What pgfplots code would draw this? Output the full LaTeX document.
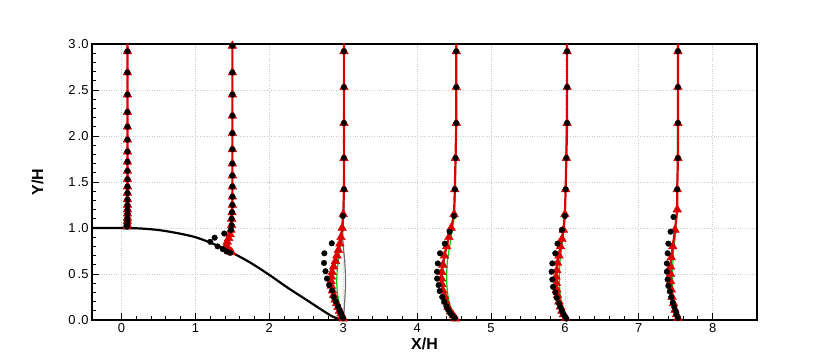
\documentclass[border=0pt]{standalone}
\usepackage{fontspec}
\setmainfont{Liberation Sans}
\usepackage{pgfplots}
\pgfplotsset{compat=1.18}
\definecolor{ProfRed}{HTML}{DD0000}
\definecolor{ProfGreen}{HTML}{00CC00}
\definecolor{ProfGray}{HTML}{707070}
\definecolor{GridGray}{HTML}{CCCCCC}

\begin{document}
\begin{tikzpicture}
\begin{axis}[
  scale only axis,
  width=665bp, height=276bp,
  xmin=-0.4, xmax=8.6, ymin=0, ymax=3,
  xtick={0,1,2,3,4,5,6,7,8},
  ytick={0,0.5,1,1.5,2,2.5,3},
  yticklabels={0\,.0,0\,.5,1\,.0,1\,.5,2\,.0,2\,.5,3\,.0},
  minor x tick num=4, minor y tick num=4,
  tick align=inside, xtick pos=bottom, ytick pos=left,
  major tick length=7bp, minor tick length=4bp,
  tick style={black, line width=0.8bp},
  grid=major,
  grid style={dotted, GridGray, line width=0.6pt},
  axis line style={line width=1.2bp},
  tick label style={font=\fontsize{13}{15}\selectfont},
  /pgf/number format/assume math mode=true,
  xlabel={X/H}, ylabel={Y/H},
  label style={font=\fontsize{16}{18}\selectfont\bfseries},
  xlabel style={yshift=2bp},
  ylabel shift=18bp,
  unbounded coords=jump,
]
\coordinate (SW) at (rel axis cs:0,0);
\coordinate (NE) at (rel axis cs:1,1);

% other models (mostly hidden behind the red one)
\addplot[ProfGray, line width=1.2bp, no marks] coordinates {
  (3.01,3.0) (3.01,1.2) (3.0,1.0) (2.99,0.9) (3.0,0.8) (3.02,0.65)
  (3.03,0.5) (3.03,0.35) (3.02,0.2) (3.01,0.08) (3.0,0.0)
};
\addplot[ProfGreen, line width=1.2bp, no marks] coordinates {
  (3.01,3.0) (3.01,1.42) (3.0,1.15) (2.99,1.0) (2.97,0.85) (2.94,0.7)
  (2.92,0.55) (2.91,0.42) (2.92,0.3) (2.95,0.15) (2.98,0.05) (3.0,0.0)
  (nan,nan)
  (4.53,3.0) (4.52,1.42) (4.50,1.1) (4.47,0.95) (4.44,0.8) (4.41,0.65)
  (4.40,0.52) (4.40,0.42) (4.41,0.3) (4.44,0.17) (4.48,0.07) (4.52,0.0)
  (nan,nan)
  (6.03,3.0) (6.01,1.4) (5.99,1.0) (5.96,0.8) (5.935,0.65) (5.925,0.52)
  (5.925,0.4) (5.935,0.28) (5.96,0.15) (6.0,0.03)
  (nan,nan)
  (7.53,3.0) (7.52,1.2) (7.50,0.95) (7.47,0.75) (7.46,0.6) (7.455,0.45)
  (7.46,0.3) (7.48,0.17) (7.51,0.06) (7.53,0.0)
};

% hill
\addplot[black, line width=2.2bp, no marks, smooth] coordinates {
  (-0.4,1.0) (0,1.0) (0.25,0.995) (0.5,0.978) (0.75,0.945) (1.0,0.9)
  (1.25,0.825) (1.5,0.73) (1.75,0.62) (2.0,0.49) (2.25,0.35) (2.5,0.22)
  (2.7,0.115) (2.85,0.04) (2.95,0.01) (3.05,0.0)
};
\addplot[black, line width=2.2bp, no marks] coordinates {(3.05,0) (8.6,0)};

% computed profiles
\addplot[ProfRed, line width=2.2bp, no marks] coordinates {
  (0.08,3.0) (0.08,2.92) (0.08,1.2) (0.078,1.076) (0.076,1.043) (0.074,1.014)
  (nan,nan)
  (1.5,3.0) (1.5,2.98) (1.5,1.25) (1.495,1.17) (1.49,1.10) (1.49,1.03)
  (1.48,0.98) (1.47,0.93) (1.45,0.89) (1.43,0.85) (1.42,0.81) (1.43,0.78)
  (1.46,0.755) (1.49,0.735)
  (nan,nan)
  (3.01,3.0) (3.01,1.42) (3.0,1.15) (2.985,1.0) (2.97,0.9) (2.955,0.83)
  (2.935,0.76) (2.915,0.70) (2.895,0.64) (2.87,0.58) (2.85,0.52) (2.84,0.47)
  (2.835,0.42) (2.84,0.37) (2.855,0.32) (2.87,0.27) (2.89,0.22) (2.91,0.18)
  (2.93,0.14) (2.95,0.10) (2.97,0.07) (2.985,0.04) (3.0,0.015)
  (nan,nan)
  (4.53,3.0) (4.53,2.14) (4.52,1.76) (4.51,1.42) (4.50,1.15) (4.46,1.0)
  (4.43,0.9) (4.40,0.8) (4.37,0.7) (4.35,0.6) (4.335,0.52) (4.33,0.45)
  (4.335,0.39) (4.35,0.32) (4.37,0.26) (4.39,0.2) (4.42,0.14) (4.45,0.09)
  (4.49,0.05) (4.52,0.015)
  (nan,nan)
  (6.03,3.0) (6.03,2.14) (6.02,1.76) (6.01,1.42) (6.0,1.15) (5.98,0.98)
  (5.96,0.88) (5.94,0.80) (5.92,0.70) (5.90,0.62) (5.89,0.54) (5.88,0.47)
  (5.885,0.40) (5.89,0.33) (5.90,0.27) (5.92,0.2) (5.94,0.145) (5.96,0.10)
  (5.98,0.06) (6.01,0.02)
  (nan,nan)
  (7.53,3.0) (7.53,1.76) (7.52,1.42) (7.52,1.2) (7.49,0.98) (7.46,0.80)
  (7.44,0.68) (7.43,0.58) (7.43,0.50) (7.43,0.42) (7.44,0.33) (7.45,0.25)
  (7.47,0.18) (7.49,0.11) (7.51,0.06) (7.53,0.02)
};
\addplot[only marks, mark=triangle*, mark size=5bp, ProfRed,
  mark options={fill=ProfRed}] coordinates {
  (0.08,2.92) (0.08,2.69) (0.08,2.45) (0.08,2.26) (0.08,2.10) (0.08,1.96)
  (0.08,1.83) (0.08,1.72) (0.08,1.62) (0.08,1.53) (0.08,1.45) (0.08,1.38)
  (0.08,1.31) (0.08,1.25) (0.08,1.20) (0.08,1.155) (0.079,1.11)
  (0.078,1.076) (0.076,1.043) (0.074,1.014)
  (1.5,2.98) (1.5,2.69) (1.5,2.45) (1.5,2.22) (1.5,2.03) (1.5,1.855)
  (1.5,1.70) (1.5,1.57) (1.5,1.45) (1.5,1.34) (1.5,1.25) (1.495,1.17)
  (1.49,1.10) (1.49,1.03) (1.48,0.98) (1.47,0.93) (1.45,0.89) (1.43,0.85)
  (1.42,0.81) (1.43,0.78) (1.46,0.755) (1.49,0.735)
  (3.01,2.92) (3.01,2.53) (3.01,2.14) (3.01,1.76) (3.01,1.42) (3.0,1.15)
  (2.985,1.0) (2.97,0.9) (2.955,0.83) (2.935,0.76) (2.915,0.70) (2.895,0.64)
  (2.87,0.58) (2.85,0.52) (2.84,0.47) (2.835,0.42) (2.84,0.37) (2.855,0.32)
  (2.87,0.27) (2.89,0.22) (2.91,0.18) (2.93,0.14) (2.95,0.10) (2.97,0.07)
  (2.985,0.04) (3.0,0.015)
  (4.53,2.92) (4.53,2.53) (4.53,2.14) (4.52,1.76) (4.51,1.42) (4.50,1.15)
  (4.46,1.0) (4.43,0.9) (4.40,0.8) (4.37,0.7) (4.35,0.6) (4.335,0.52)
  (4.33,0.45) (4.335,0.39) (4.35,0.32) (4.37,0.26) (4.39,0.2) (4.42,0.14)
  (4.45,0.09) (4.49,0.05) (4.52,0.015)
  (6.03,2.92) (6.03,2.53) (6.03,2.14) (6.02,1.76) (6.01,1.42) (6.0,1.15)
  (5.98,0.98) (5.96,0.88) (5.94,0.80) (5.92,0.70) (5.90,0.62) (5.89,0.54)
  (5.88,0.47) (5.885,0.40) (5.89,0.33) (5.90,0.27) (5.92,0.2) (5.94,0.145)
  (5.96,0.10) (5.98,0.06) (6.01,0.02)
  (7.53,2.92) (7.53,2.53) (7.53,2.14) (7.53,1.76) (7.52,1.42) (7.52,1.2)
  (7.49,0.98) (7.46,0.80) (7.44,0.68) (7.43,0.58) (7.43,0.50) (7.43,0.42)
  (7.44,0.33) (7.45,0.25) (7.47,0.18) (7.49,0.11) (7.51,0.06) (7.53,0.02)
};

% experiment
\addplot[only marks, mark=*, mark size=2.8bp, black] coordinates {
  (0.08,2.92) (0.08,2.69) (0.08,2.45) (0.08,2.26) (0.08,2.10) (0.08,1.96)
  (0.08,1.83) (0.08,1.72) (0.08,1.62) (0.08,1.53) (0.08,1.45) (0.08,1.38)
  (0.08,1.31) (0.08,1.25) (0.08,1.20) (0.08,1.155) (0.079,1.11)
  (0.078,1.076) (0.076,1.043) (0.074,1.014)
  (1.5,2.98) (1.5,2.69) (1.5,2.45) (1.5,2.22) (1.5,2.03) (1.5,1.855)
  (1.5,1.70) (1.5,1.57) (1.5,1.45) (1.5,1.34) (1.5,1.25) (1.495,1.17)
  (1.49,1.10) (1.49,1.03) (1.48,0.98) (1.39,0.94) (1.26,0.895) (1.20,0.85)
  (1.30,0.80) (1.37,0.77) (1.42,0.745) (1.47,0.73)
  (3.01,2.92) (3.01,2.53) (3.01,2.14) (3.01,1.76) (3.01,1.42) (2.995,1.13)
  (2.845,0.834) (2.745,0.725) (2.74,0.62) (2.76,0.53) (2.78,0.45) (2.81,0.38)
  (2.85,0.32) (2.87,0.25) (2.90,0.20) (2.93,0.15) (2.95,0.11) (2.97,0.075)
  (2.98,0.045) (3.0,0.02)
  (4.53,2.92) (4.53,2.53) (4.53,2.14) (4.52,1.76) (4.51,1.42) (4.50,1.13)
  (4.44,0.96) (4.375,0.83) (4.31,0.725) (4.28,0.615) (4.27,0.525) (4.27,0.45)
  (4.29,0.38) (4.305,0.315) (4.34,0.25) (4.365,0.2) (4.395,0.152) (4.42,0.11)
  (4.45,0.073) (4.48,0.044) (4.51,0.02)
  (6.03,2.92) (6.03,2.53) (6.03,2.14) (6.02,1.76) (6.01,1.42) (6.0,1.13)
  (5.96,0.98) (5.90,0.83) (5.87,0.725) (5.83,0.615) (5.82,0.525) (5.83,0.44)
  (5.84,0.36) (5.87,0.30) (5.89,0.24) (5.92,0.18) (5.94,0.14) (5.96,0.10)
  (5.98,0.06) (6.0,0.04) (6.02,0.015)
  (7.53,2.92) (7.53,2.53) (7.53,2.14) (7.53,1.76) (7.52,1.42) (7.47,1.12)
  (7.43,0.96) (7.40,0.83) (7.39,0.725) (7.38,0.615) (7.38,0.525) (7.39,0.44)
  (7.40,0.37) (7.42,0.31) (7.44,0.25) (7.46,0.19) (7.48,0.14) (7.50,0.095)
  (7.51,0.06) (7.53,0.02)
};
\end{axis}
\pgfresetboundingbox
\path[use as bounding box] ([xshift=-92bp,yshift=-40bp]SW) rectangle ([xshift=73bp,yshift=44bp]NE);
\end{tikzpicture}
\end{document}
